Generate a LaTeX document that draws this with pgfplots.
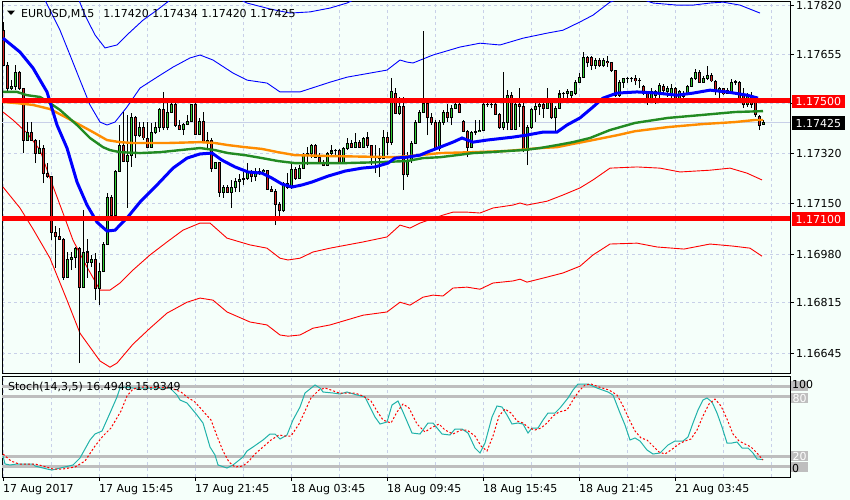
\documentclass[border=0pt]{standalone}
\usepackage{fontspec}
\setmainfont{DejaVu Sans}
\usepackage{pgfplots}
\pgfplotsset{compat=1.18}
\usepackage{pgfplotstable}
\definecolor{bg}{RGB}{245,255,250}
\definecolor{gridc}{RGB}{200,208,232}
\definecolor{bullc}{RGB}{50,205,50}
\definecolor{bearc}{RGB}{215,35,35}
\definecolor{maorange}{RGB}{255,140,0}
\definecolor{magreen}{RGB}{34,139,34}
\definecolor{stochc}{RGB}{32,178,170}
\definecolor{lvl}{RGB}{190,190,190}
\newcommand\mtf{\fontsize{11bp}{13bp}\selectfont}

\pgfplotstableread{
x o h l c
0 1.17738 1.17766 1.17617 1.17620
1 1.17620 1.17630 1.17529 1.17542
2 1.17542 1.17569 1.17535 1.17549
3 1.17549 1.17620 1.17535 1.17596
4 1.17596 1.17600 1.17535 1.17539
5 1.17539 1.17542 1.17322 1.17366
6 1.17366 1.17427 1.17363 1.17393
7 1.17393 1.17427 1.17363 1.17366
8 1.17366 1.17370 1.17288 1.17322
9 1.17322 1.17366 1.17320 1.17336
10 1.17336 1.17349 1.17220 1.17254
11 1.17254 1.17288 1.17237 1.17241
12 1.17241 1.17245 1.17027 1.17054
13 1.17054 1.17075 1.16933 1.17038
14 1.17038 1.17068 1.17027 1.17031
15 1.17031 1.17033 1.16892 1.16902
16 1.16902 1.16987 1.16899 1.16963
17 1.16963 1.16987 1.16926 1.16970
18 1.16970 1.17004 1.16933 1.17000
19 1.17000 1.17004 1.16611 1.16868
20 1.16868 1.17129 1.16865 1.16987
21 1.16987 1.17031 1.16899 1.16953
22 1.16953 1.16977 1.16936 1.16963
23 1.16963 1.16983 1.16824 1.16865
24 1.16865 1.16949 1.16807 1.16922
25 1.16922 1.17021 1.16919 1.17014
26 1.17014 1.17187 1.17011 1.17170
27 1.17170 1.17180 1.17105 1.17112
28 1.17112 1.17264 1.17105 1.17261
29 1.17261 1.17417 1.17258 1.17349
30 1.17349 1.17461 1.17291 1.17295
31 1.17295 1.17451 1.17136 1.17315
32 1.17315 1.17457 1.17275 1.17444
33 1.17444 1.17446 1.17305 1.17380
34 1.17380 1.17427 1.17376 1.17407
35 1.17407 1.17427 1.17366 1.17373
36 1.17373 1.17427 1.17339 1.17342
37 1.17342 1.17424 1.17339 1.17390
38 1.17390 1.17427 1.17386 1.17407
39 1.17407 1.17473 1.17393 1.17471
40 1.17471 1.17529 1.17400 1.17407
41 1.17407 1.17491 1.17400 1.17461
42 1.17461 1.17508 1.17457 1.17485
43 1.17485 1.17495 1.17410 1.17417
44 1.17417 1.17434 1.17400 1.17403
45 1.17403 1.17423 1.17383 1.17420
46 1.17420 1.17451 1.17417 1.17430
47 1.17430 1.17487 1.17427 1.17485
48 1.17485 1.17501 1.17383 1.17386
49 1.17386 1.17441 1.17383 1.17430
50 1.17430 1.17461 1.17356 1.17359
51 1.17359 1.17393 1.17339 1.17363
52 1.17363 1.17373 1.17258 1.17271
53 1.17271 1.17293 1.17268 1.17291
54 1.17291 1.17293 1.17173 1.17190
55 1.17190 1.17214 1.17170 1.17204
56 1.17204 1.17214 1.17187 1.17190
57 1.17190 1.17231 1.17136 1.17204
58 1.17204 1.17237 1.17190 1.17227
59 1.17227 1.17251 1.17190 1.17234
60 1.17234 1.17258 1.17214 1.17237
61 1.17237 1.17288 1.17231 1.17261
62 1.17261 1.17264 1.17224 1.17241
63 1.17241 1.17271 1.17227 1.17261
64 1.17261 1.17271 1.17248 1.17258
65 1.17258 1.17268 1.17248 1.17264
66 1.17264 1.17266 1.17197 1.17200
67 1.17200 1.17210 1.17190 1.17193
68 1.17193 1.17200 1.17078 1.17149
69 1.17149 1.17156 1.17092 1.17126
70 1.17126 1.17223 1.17122 1.17220
71 1.17220 1.17254 1.17200 1.17204
72 1.17204 1.17288 1.17200 1.17268
73 1.17268 1.17275 1.17231 1.17237
74 1.17237 1.17281 1.17234 1.17271
75 1.17271 1.17322 1.17268 1.17315
76 1.17315 1.17342 1.17281 1.17319
77 1.17319 1.17353 1.17305 1.17349
78 1.17349 1.17353 1.17305 1.17308
79 1.17308 1.17322 1.17289 1.17291
80 1.17291 1.17298 1.17278 1.17281
81 1.17281 1.17325 1.17278 1.17322
82 1.17322 1.17349 1.17312 1.17329
83 1.17329 1.17335 1.17308 1.17332
84 1.17332 1.17335 1.17289 1.17291
85 1.17291 1.17342 1.17289 1.17336
86 1.17336 1.17373 1.17332 1.17356
87 1.17356 1.17366 1.17339 1.17342
88 1.17342 1.17390 1.17339 1.17359
89 1.17359 1.17366 1.17339 1.17342
90 1.17342 1.17376 1.17339 1.17373
91 1.17373 1.17393 1.17339 1.17346
92 1.17346 1.17349 1.17281 1.17312
93 1.17312 1.17349 1.17254 1.17308
94 1.17308 1.17339 1.17241 1.17305
95 1.17305 1.17400 1.17302 1.17376
96 1.17376 1.17393 1.17315 1.17359
97 1.17359 1.17576 1.17349 1.17529
98 1.17525 1.17542 1.17454 1.17457
99 1.17457 1.17512 1.17451 1.17478
100 1.17478 1.17512 1.17197 1.17248
101 1.17248 1.17325 1.17241 1.17298
102 1.17298 1.17363 1.17288 1.17356
103 1.17356 1.17434 1.17353 1.17427
104 1.17427 1.17468 1.17424 1.17461
105 1.17461 1.17735 1.17457 1.17491
106 1.17491 1.17495 1.17383 1.17441
107 1.17441 1.17457 1.17417 1.17427
108 1.17427 1.17434 1.17332 1.17336
109 1.17336 1.17434 1.17329 1.17427
110 1.17427 1.17468 1.17417 1.17461
111 1.17461 1.17488 1.17427 1.17441
112 1.17441 1.17485 1.17417 1.17474
113 1.17474 1.17498 1.17472 1.17488
114 1.17488 1.17495 1.17457 1.17461
115 1.17430 1.17434 1.17393 1.17396
116 1.17396 1.17400 1.17308 1.17342
117 1.17342 1.17396 1.17339 1.17393
118 1.17393 1.17434 1.17383 1.17396
119 1.17396 1.17434 1.17393 1.17400
120 1.17400 1.17491 1.17396 1.17485
121 1.17485 1.17495 1.17478 1.17488
122 1.17488 1.17501 1.17474 1.17485
123 1.17485 1.17501 1.17451 1.17454
124 1.17454 1.17457 1.17403 1.17407
125 1.17407 1.17596 1.17400 1.17427
126 1.17427 1.17535 1.17400 1.17518
127 1.17518 1.17529 1.17400 1.17403
128 1.17403 1.17491 1.17400 1.17485
129 1.17485 1.17542 1.17410 1.17481
130 1.17481 1.17491 1.17325 1.17332
131 1.17332 1.17417 1.17281 1.17407
132 1.17407 1.17474 1.17404 1.17468
133 1.17468 1.17495 1.17427 1.17478
134 1.17478 1.17501 1.17451 1.17488
135 1.17488 1.17505 1.17441 1.17474
136 1.17474 1.17542 1.17471 1.17498
137 1.17498 1.17501 1.17437 1.17441
138 1.17441 1.17481 1.17393 1.17474
139 1.17474 1.17535 1.17471 1.17522
140 1.17522 1.17529 1.17501 1.17525
141 1.17525 1.17539 1.17508 1.17529
142 1.17518 1.17532 1.17505 1.17529
143 1.17525 1.17569 1.17518 1.17562
144 1.17562 1.17593 1.17559 1.17579
145 1.17579 1.17664 1.17576 1.17647
146 1.17647 1.17650 1.17613 1.17627
147 1.17644 1.17650 1.17603 1.17620
148 1.17620 1.17644 1.17606 1.17637
149 1.17637 1.17644 1.17613 1.17617
150 1.17617 1.17644 1.17613 1.17637
151 1.17633 1.17650 1.17613 1.17627
152 1.17627 1.17630 1.17596 1.17600
153 1.17600 1.17601 1.17512 1.17518
154 1.17518 1.17569 1.17512 1.17562
155 1.17562 1.17576 1.17542 1.17573
156 1.17573 1.17579 1.17559 1.17576
157 1.17576 1.17579 1.17562 1.17573
158 1.17573 1.17586 1.17552 1.17566
159 1.17566 1.17576 1.17542 1.17567
160 1.17549 1.17552 1.17518 1.17525
161 1.17525 1.17529 1.17485 1.17508
162 1.17508 1.17542 1.17505 1.17532
163 1.17518 1.17535 1.17488 1.17532
164 1.17525 1.17559 1.17495 1.17552
165 1.17549 1.17556 1.17518 1.17535
166 1.17529 1.17549 1.17512 1.17542
167 1.17525 1.17556 1.17508 1.17542
168 1.17542 1.17545 1.17501 1.17508
169 1.17508 1.17535 1.17501 1.17529
170 1.17525 1.17532 1.17505 1.17515
171 1.17525 1.17552 1.17518 1.17549
172 1.17549 1.17579 1.17545 1.17576
173 1.17576 1.17606 1.17569 1.17596
174 1.17596 1.17603 1.17560 1.17562
175 1.17562 1.17583 1.17560 1.17576
176 1.17576 1.17617 1.17569 1.17586
177 1.17586 1.17593 1.17562 1.17566
178 1.17566 1.17569 1.17518 1.17535
179 1.17529 1.17545 1.17508 1.17539
180 1.17539 1.17542 1.17518 1.17522
181 1.17535 1.17542 1.17522 1.17525
182 1.17525 1.17573 1.17522 1.17562
183 1.17562 1.17569 1.17552 1.17561
184 1.17562 1.17566 1.17495 1.17501
185 1.17518 1.17542 1.17474 1.17485
186 1.17485 1.17525 1.17478 1.17518
187 1.17518 1.17529 1.17474 1.17488
188 1.17508 1.17515 1.17444 1.17451
189 1.17447 1.17451 1.17400 1.17417
190 1.17420 1.17434 1.17420 1.17425
}\candles

\begin{document}
\begin{tikzpicture}
\useasboundingbox (0,0) rectangle (850bp,-500bp);
\fill[bg] (0,0) rectangle (850bp,-500bp);

% ---------------- main price panel ----------------
\begin{axis}[
  at={(2bp,-2bp)}, anchor=north west,
  scale only axis, width=788bp, height=371bp,
  xmin=-0.25, xmax=196.75, ymin=1.165773, ymax=1.178335,
  axis line style={line width=1bp, black},
  xtick={0,12,...,192}, xticklabels={},
  ytick={1.16645,1.16815,1.16980,1.17150,1.17320,1.17490,1.17655,1.17820},
  yticklabels={1.16645,1.16815,1.16980,1.17150,1.17320,,1.17655,1.17820},
  ytick pos=right, yticklabel pos=right,
  tick align=outside, major tick length=4bp,
  xtick style={draw=none},
  ytick style={black, line width=1bp},
  grid=major, major grid style={gridc, line width=1bp, dash pattern=on 3bp off 3bp},
  yticklabel style={font=\mtf, anchor=west, inner sep=0pt, xshift=2bp},
  clip mode=individual,
]
% bid line
\addplot[gridc, line width=1bp, forget plot] coordinates {(-0.25,1.17425) (196.75,1.17425)};

% Bollinger-type envelopes
\addplot[blue, line width=0.9bp] coordinates {(0,1.18100)(12,1.18000)(18,1.17874)(20.5,1.17789)(23,1.17722)(25.5,1.17678)(28.5,1.17688)(31,1.17722)(35,1.17772)(38.5,1.17806)(41.75,1.17840)(46.75,1.17874)(54.25,1.17874)(61,1.17830)(66.75,1.17810)(71.75,1.17796)(76.75,1.17800)(81.75,1.17813)(86,1.17830)(91.75,1.17867)(100,1.17950)};
\addplot[blue, line width=0.9bp] coordinates {(0,1.18000)(6.75,1.17942)(10.5,1.17840)(14.25,1.17738)(16.75,1.17654)(19.25,1.17569)(21.75,1.17485)(24.25,1.17427)(26,1.17417)(28,1.17427)(31,1.17478)(34.25,1.17542)(38.5,1.17579)(42.5,1.17613)(46.75,1.17644)(49.25,1.17654)(52.5,1.17637)(57.5,1.17593)(61,1.17569)(66,1.17559)(69.25,1.17529)(74.25,1.17529)(81.75,1.17562)(86,1.17579)(96,1.17603)(99.25,1.17637)(101,1.17630)(102.5,1.17627)(107.5,1.17654)(114.25,1.17681)(119.25,1.17694)(124.25,1.17688)(130,1.17711)(136,1.17728)(140,1.17738)(144.25,1.17766)(147.5,1.17789)(151.75,1.17833)(156.75,1.17857)(162.5,1.17830)(168.5,1.17823)(172.5,1.17823)(176.75,1.17830)(180,1.17833)(184.25,1.17823)(189.25,1.17796)};
\addplot[red, line width=0.9bp] coordinates {(0,1.17461)(2.5,1.17434)(6,1.17390)(9.25,1.17332)(11.75,1.17237)(15,1.17119)(17.5,1.17027)(21,1.16936)(24.25,1.16858)(26.75,1.16858)(29.25,1.16882)(32.5,1.16926)(36.75,1.16977)(41,1.17021)(45,1.17061)(49.25,1.17085)(51.75,1.17085)(56,1.17034)(61.75,1.17011)(66,1.17000)(69.25,1.16966)(71.25,1.16960)(74.25,1.16966)(77.5,1.16987)(81.75,1.17000)(90,1.17021)(96,1.17038)(99.25,1.17078)(101.75,1.17068)(104.25,1.17085)(110,1.17112)(112.5,1.17122)(116,1.17122)(119.25,1.17119)(122.5,1.17136)(127.5,1.17146)(129.25,1.17153)(131,1.17146)(136,1.17159)(140,1.17180)(144.25,1.17204)(147.5,1.17231)(151.75,1.17271)(158.5,1.17275)(164.25,1.17271)(169.25,1.17258)(176.75,1.17264)(181.75,1.17271)(186,1.17254)(189.75,1.17231)};
\addplot[red, line width=0.9bp] coordinates {(0,1.17207)(4.25,1.17136)(7.5,1.17065)(11.75,1.16966)(16,1.16824)(19.25,1.16712)(24.25,1.16618)(26.75,1.16597)(28.5,1.16611)(32.5,1.16675)(36.75,1.16729)(41,1.16780)(46,1.16817)(49.25,1.16831)(52.5,1.16824)(56,1.16784)(61.75,1.16750)(66,1.16740)(69.25,1.16706)(71.25,1.16702)(74.25,1.16706)(77.5,1.16729)(81.75,1.16740)(90,1.16773)(96,1.16784)(99.25,1.16817)(101.75,1.16807)(105,1.16834)(107.5,1.16841)(110,1.16838)(112.5,1.16865)(116,1.16868)(119.25,1.16861)(122.5,1.16882)(127.5,1.16889)(129.25,1.16895)(131,1.16885)(136,1.16902)(140,1.16916)(144.25,1.16939)(147.5,1.16977)(151.75,1.17014)(158.5,1.17017)(163.5,1.17004)(170.25,1.16997)(176.75,1.17014)(182.5,1.17007)(186.75,1.17000)(189.75,1.16973)};

% candles: wicks
\addplot[draw=none, mark=none, forget plot,
  error bars/.cd, y dir=plus, y explicit, error mark=none,
  error bar style={draw=black, line width=1bp, solid}]
  table[x=x, y=l, y error plus expr={\thisrow{h}-\thisrow{l}}] {\candles};
% candles: body outlines
\addplot[draw=none, mark=none, forget plot,
  error bars/.cd, y dir=plus, y explicit, error mark=none,
  error bar style={draw=black, line width=3bp, solid}]
  table[x=x, y expr={min(\thisrow{o},\thisrow{c})-0.0000169}, y error plus expr={abs(\thisrow{c}-\thisrow{o})+0.0000339}] {\candles};
% candles: bull fill
\addplot[draw=none, mark=none, forget plot,
  restrict expr to domain={\thisrow{c}-\thisrow{o}}{0:1},
  error bars/.cd, y dir=plus, y explicit, error mark=none,
  error bar style={draw=bullc, line width=1bp, solid}]
  table[x=x, y expr={\thisrow{o}+0.0000169}, y error plus expr={max(\thisrow{c}-\thisrow{o}-0.0000339,0)}] {\candles};
% candles: bear fill
\addplot[draw=none, mark=none, forget plot,
  restrict expr to domain={\thisrow{o}-\thisrow{c}}{0.000001:1},
  error bars/.cd, y dir=plus, y explicit, error mark=none,
  error bar style={draw=bearc, line width=1bp, solid}]
  table[x=x, y expr={\thisrow{c}+0.0000169}, y error plus expr={max(\thisrow{o}-\thisrow{c}-0.0000339,0)}] {\candles};

% moving averages
\addplot[maorange, line width=2.4bp] coordinates {(0,1.17495)(3.5,1.17491)(7.5,1.17485)(11.75,1.17471)(16,1.17441)(19.25,1.17417)(22.5,1.17393)(26,1.17366)(29.25,1.17359)(32.5,1.17356)(41,1.17356)(49.25,1.17359)(53,1.17356)(56.25,1.17349)(60.5,1.17342)(64.75,1.17336)(68.75,1.17325)(73,1.17315)(81.25,1.17312)(98,1.17308)(104.25,1.17315)(109.25,1.17322)(117.5,1.17325)(126,1.17329)(134.25,1.17339)(138.5,1.17342)(142.5,1.17353)(147.5,1.17366)(153.75,1.17383)(158,1.17396)(166.25,1.17410)(174.75,1.17420)(183,1.17427)(188,1.17434)(190,1.17434)};
\addplot[magreen, line width=2.4bp] coordinates {(0,1.17529)(3.5,1.17529)(6,1.17518)(9.25,1.17512)(11.75,1.17491)(14.25,1.17468)(18.5,1.17417)(21.75,1.17373)(25,1.17342)(26.75,1.17332)(29.25,1.17325)(34.25,1.17322)(39.25,1.17325)(44.25,1.17332)(49.25,1.17339)(53,1.17332)(56.25,1.17322)(60.5,1.17315)(64.75,1.17305)(68.75,1.17295)(73,1.17288)(85.5,1.17288)(93.75,1.17291)(101,1.17295)(105,1.17305)(109.25,1.17308)(113.5,1.17315)(117.5,1.17322)(121.75,1.17325)(126,1.17329)(130,1.17332)(134.25,1.17339)(138.5,1.17349)(142.5,1.17359)(146.75,1.17373)(151.75,1.17400)(158,1.17424)(166.25,1.17441)(174.75,1.17451)(183,1.17461)(190,1.17464)};
\addplot[blue, line width=3bp] coordinates {(0,1.17711)(4.25,1.17664)(7.5,1.17610)(11,1.17529)(13.5,1.17417)(16,1.17339)(18.5,1.17224)(21,1.17146)(23.5,1.17088)(26,1.17058)(28,1.17061)(31,1.17102)(34.25,1.17156)(38.5,1.17214)(42.5,1.17271)(46,1.17305)(49.25,1.17319)(52.25,1.17322)(54.75,1.17298)(58,1.17275)(61.25,1.17258)(64.75,1.17254)(67.25,1.17237)(69.75,1.17217)(72.25,1.17207)(74.75,1.17214)(77.25,1.17224)(81.25,1.17244)(85.5,1.17261)(89.75,1.17271)(93,1.17275)(96.25,1.17288)(98,1.17305)(101,1.17308)(104.25,1.17315)(106,1.17325)(109.25,1.17342)(112.5,1.17359)(114.75,1.17373)(117.5,1.17359)(121,1.17366)(127.5,1.17376)(131,1.17383)(135,1.17393)(138.5,1.17393)(141,1.17417)(144.25,1.17441)(147.5,1.17478)(150,1.17508)(153.5,1.17525)(158.5,1.17529)(163.5,1.17525)(168.5,1.17518)(172.5,1.17525)(176.75,1.17535)(181,1.17529)(186,1.17518)(188.75,1.17508)};

% horizontal levels
\addplot[red, line width=5bp] coordinates {(-0.25,1.17500) (196.75,1.17500)};
\addplot[red, line width=5bp] coordinates {(-0.25,1.17100) (196.75,1.17100)};

\coordinate (L1) at (axis cs:196.75,1.17500);
\coordinate (L2) at (axis cs:196.75,1.17100);
\coordinate (L3) at (axis cs:196.75,1.17425);
\end{axis}

% ---------------- stochastic panel ----------------
\begin{axis}[
  at={(2bp,-376bp)}, anchor=north west,
  scale only axis, width=788bp, height=101bp,
  xmin=-0.25, xmax=196.75, ymin=-1, ymax=100,
  axis line style={line width=1bp, black},
  xtick={0,24,...,168},
  xticklabels={17 Aug 2017,17 Aug 15:45,17 Aug 21:45,18 Aug 03:45,18 Aug 09:45,18 Aug 15:45,18 Aug 21:45,21 Aug 03:45},
  minor xtick={12,36,60,84,108,132,156,180,192},
  xtick pos=bottom, tick align=outside, major tick length=4bp, minor tick length=0bp,
  xtick style={black, line width=1bp},
  ytick=\empty,
  xmajorgrids, xminorgrids,
  major grid style={gridc, line width=1bp, dash pattern=on 3bp off 3bp},
  minor grid style={gridc, line width=1bp, dash pattern=on 3bp off 3bp},
  xticklabel style={font=\mtf, anchor=north west, inner sep=0pt, yshift=-3bp},
  clip mode=individual,
]
\addplot[lvl, line width=3bp] coordinates {(-0.25,90) (196.75,90)};
\addplot[lvl, line width=3bp] coordinates {(-0.25,80) (196.75,80)};
\addplot[lvl, line width=3bp] coordinates {(-0.25,20) (196.75,20)};
\addplot[lvl, line width=3bp] coordinates {(-0.25,10) (196.75,10)};
\addplot[stochc, line width=1bp] coordinates {(0,20)(0.5,12)(1.75,11)(3.5,12)(7.5,12)(8,10)(11,7)(12.25,6)(17.5,11)(19.25,18)(21.75,36)(23,42)(24.75,45)(26.75,63)(28.5,79)(29.25,88)(30,89)(32.5,88)(36,88)(41.75,88)(43.5,81)(44.25,76)(46,73)(48.5,61)(50,53)(51.75,29)(53,21)(53.75,11)(56,8)(57.5,11)(60,19)(61,25)(62.5,29)(65,36)(66.75,42)(68,42)(69.25,37)(71,41)(72.5,56)(74.25,69)(75.5,83)(76.75,87)(78,91)(79.25,88)(80,84)(82.5,83)(84.25,82)(86,84)(88.5,81)(90.5,79)(91.75,69)(93,59)(94.25,52)(96,54)(97.25,71)(98.75,75)(100,64)(102.25,43)(104.25,42)(106.25,53)(107.5,53)(109.75,42)(111.75,41)(113,47)(114.75,47)(116.25,43)(118,28)(119.25,23)(120.5,33)(122.25,59)(123.5,70)(124.75,69)(126,61)(127.25,52)(128.75,53)(130,52)(131.25,43)(132.25,48)(133.75,48)(135,56)(136.25,63)(138,63)(139.25,68)(141.25,78)(142.5,86)(143.75,92)(146.25,92)(148.5,88)(151.25,84)(152.5,81)(154.25,63)(155.5,51)(156.75,36)(158,38)(159.25,35)(161,26)(162.5,22)(164.25,23)(166.25,31)(168,35)(170,35)(171.25,39)(172.5,53)(173.75,66)(175,76)(176,78)(177.25,74)(178.5,63)(179.75,49)(181,33)(182.25,33)(183.5,34)(184.75,28)(186.25,28)(187.5,23)(188.5,17)(190,16.49)};
\addplot[red, line width=1bp, dash pattern=on 2bp off 2bp] coordinates {(0,22)(2,15)(4,12)(8,12)(10,10)(12.5,7)(15,7)(18,9)(20.5,15)(23,30)(25,40)(27,48)(29.5,65)(31,80)(32.5,87)(35,89)(42,88)(44.5,84)(46,79)(48,74)(50,65)(52,56)(53.5,40)(55,25)(56.5,14)(58,9)(60,10)(61.5,15)(63,22)(65,29)(67,36)(69,41)(70.5,40)(72,40)(74,52)(75.5,65)(77,78)(79,86)(80.5,88)(82,86)(84,83)(86,83)(88,83)(90,80)(92,75)(93.5,65)(95,56)(97,53)(98.5,64)(100,72)(101.5,68)(103.5,52)(105.5,44)(107,48)(109,52)(110.5,46)(112.5,42)(114.5,46)(116,46)(118,40)(119.5,30)(121,25)(122.5,40)(124,60)(125.5,67)(127,63)(128.5,55)(130,53)(131.5,48)(133,46)(134.5,48)(136,53)(137.5,60)(139,64)(141,66)(142.5,76)(144,85)(145.5,91)(147,92)(149,89)(151.5,86)(153.5,81)(155,70)(156.5,57)(158,45)(159.5,38)(161,36)(162.5,30)(164,24)(165.5,22)(167,26)(169,32)(170.5,35)(172,37)(173.5,46)(175,60)(176.5,72)(178,77)(179.5,70)(181,57)(182.5,42)(184,35)(185.5,32)(187,29)(188.5,23)(190,15.93)};
\coordinate (S90) at (axis cs:196.75,90);
\coordinate (S80) at (axis cs:196.75,78);
\coordinate (S20) at (axis cs:196.75,20);
\coordinate (S10) at (axis cs:196.75,9);
\coordinate (S100) at (axis cs:196.75,92);
\coordinate (S0) at (axis cs:196.75,8);
\end{axis}

% right-side price labels
\node[fill=red, text=white, font=\mtf, anchor=west, inner xsep=4bp, inner ysep=2.5bp] at ([xshift=1.5bp,yshift=-1bp]L1) {1.17500};
\node[fill=red, text=white, font=\mtf, anchor=west, inner xsep=4bp, inner ysep=2.5bp] at ([xshift=1.5bp,yshift=-0.5bp]L2) {1.17100};
\node[fill=black, text=white, font=\mtf, anchor=west, inner xsep=4bp, inner ysep=2.5bp] at ([xshift=1.5bp,yshift=-0.5bp]L3) {1.17425};

% stochastic level labels (the 90 and 10 boxes lie under the 100 and 0 scale labels)
\node[fill=lvl, font=\mtf, anchor=west, inner xsep=1.5bp, inner ysep=1bp] at ([xshift=1bp]S90) {\phantom{90}};
\node[fill=lvl, text=white, font=\mtf, anchor=west, inner xsep=1.5bp, inner ysep=1bp] at ([xshift=1bp]S80) {80};
\node[fill=lvl, text=white, font=\mtf, anchor=west, inner xsep=1.5bp, inner ysep=1bp] at ([xshift=1bp]S20) {20};
\node[fill=lvl, font=\mtf, anchor=west, inner xsep=1.5bp, inner ysep=1bp] at ([xshift=1bp]S10) {\phantom{10}};
\node[text=black, font=\mtf, anchor=west, inner sep=0pt] at ([xshift=2bp]S100) {100};
\node[text=black, font=\mtf, anchor=west, inner sep=0pt] at ([xshift=2bp]S0) {0};

% titles
\fill[black] (7bp,-10.5bp) -- (15bp,-10.5bp) -- (11bp,-15bp) -- cycle;
\node[font=\mtf, anchor=base west, inner sep=0pt] at (21bp,-17bp) {EURUSD,M15\hspace{9bp}1.17420 1.17434 1.17420 1.17425};
\node[font=\mtf, anchor=base west, inner sep=0pt] at (8bp,-390bp) {Stoch(14,3,5) 16.4948 15.9349};
\end{tikzpicture}
\end{document}
